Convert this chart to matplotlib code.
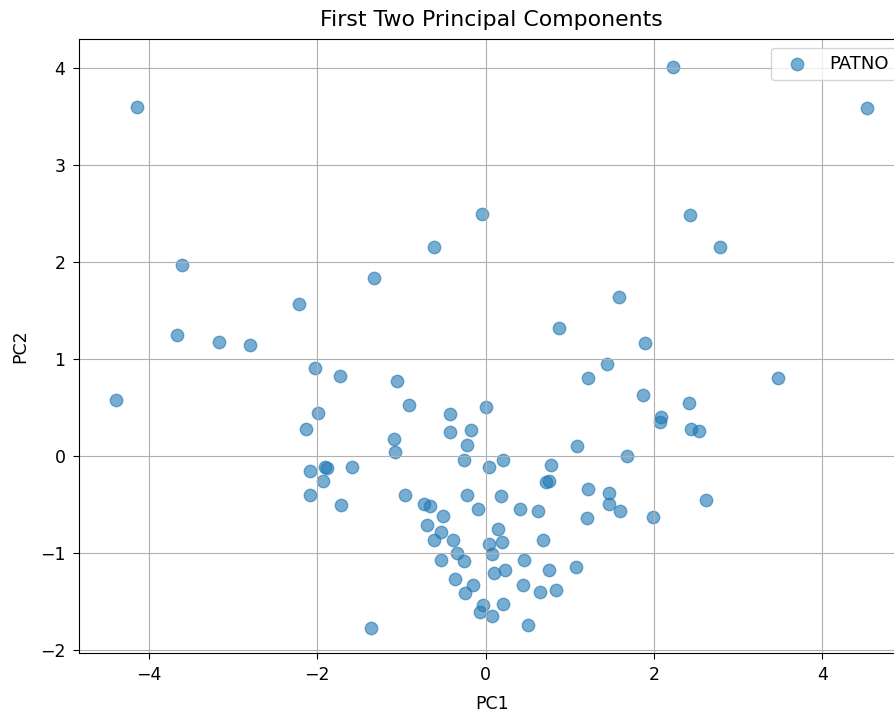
import matplotlib
matplotlib.use("Agg")
import matplotlib.pyplot as plt

# First two principal component scores for each patient
pc1 = [-4.14, -3.60, -1.32, -2.21, -3.66, -3.17, -2.80,
       2.22, -0.04, -0.61, 1.59, 0.87, 1.89,
       4.53, 2.43, 2.78,
       -4.39, -2.03, -1.73, -1.99, -2.13, -2.08, -1.88, -1.90, -1.58,
       -1.93, -2.08, -1.71, -1.36,
       1.44, 1.22, 1.87, 2.08, 2.07, -1.05, -0.91, -0.42, 0.00, -0.42,
       -0.17, -1.09, -0.22, -1.07, 1.09, 1.68, -0.25, 0.21, 0.04, 0.78,
       0.72, 0.75, 1.22, 1.46, 1.46, 1.60, 1.20, 1.99, -0.96, -0.22,
       0.18, -0.73, -0.66, -0.09, 0.41, 0.62, -0.50, -0.69, 0.15, -0.53,
       -0.61, -0.39, 0.68, 0.04, 0.19, -0.34, 0.08, -0.53, -0.25, 0.46,
       0.75, 1.07, 0.23, 0.10, -0.36, -0.15, 0.45, -0.24, 0.65, 0.84,
       -0.03, 0.21, -0.06, 0.08, 0.50,
       3.47, 2.41, 2.44, 2.54, 2.62]
pc2 = [3.60, 1.97, 1.83, 1.57, 1.25, 1.17, 1.14,
       4.01, 2.49, 2.15, 1.64, 1.32, 1.16,
       3.59, 2.48, 2.15,
       0.58, 0.91, 0.82, 0.44, 0.28, -0.15, -0.12, -0.11, -0.11,
       -0.26, -0.40, -0.51, -1.77,
       0.95, 0.80, 0.63, 0.40, 0.35, 0.77, 0.53, 0.43, 0.51, 0.25,
       0.27, 0.18, 0.11, 0.04, 0.10, 0.00, -0.04, -0.04, -0.11, -0.09,
       -0.27, -0.26, -0.34, -0.38, -0.49, -0.57, -0.64, -0.63, -0.40, -0.40,
       -0.41, -0.49, -0.52, -0.55, -0.55, -0.57, -0.62, -0.71, -0.75, -0.78,
       -0.87, -0.87, -0.87, -0.91, -0.89, -1.00, -1.01, -1.07, -1.08, -1.07,
       -1.17, -1.14, -1.17, -1.21, -1.27, -1.33, -1.33, -1.41, -1.40, -1.38,
       -1.54, -1.53, -1.61, -1.65, -1.74,
       0.80, 0.55, 0.28, 0.26, -0.45]

plt.rcParams['font.size'] = 12.5

fig = plt.figure(figsize=(8.94, 7.16), dpi=100)
# axes extend slightly past the right edge of the figure
ax = fig.add_axes([78.7 / 894, 1 - 653 / 716, (905 - 78.7) / 894, (653 - 38.7) / 716])

ax.scatter(pc1, pc2, s=80, alpha=0.6, color='#1f77b4', label='PATNO')
ax.set_xlim(-4.83, 4.98)
ax.set_ylim(-2.03, 4.30)
ax.set_xticks([-4, -2, 0, 2, 4])
ax.set_yticks([-2, -1, 0, 1, 2, 3, 4])
ax.tick_params(length=4.5, pad=5)
ax.grid(True)
ax.set_title('First Two Principal Components', fontsize=15.8, pad=9)
ax.set_xlabel('PC1', labelpad=8)
ax.set_ylabel('PC2', labelpad=8)
ax.legend(loc='upper right', fontsize=13)

fig.savefig('out.png', dpi=100)
